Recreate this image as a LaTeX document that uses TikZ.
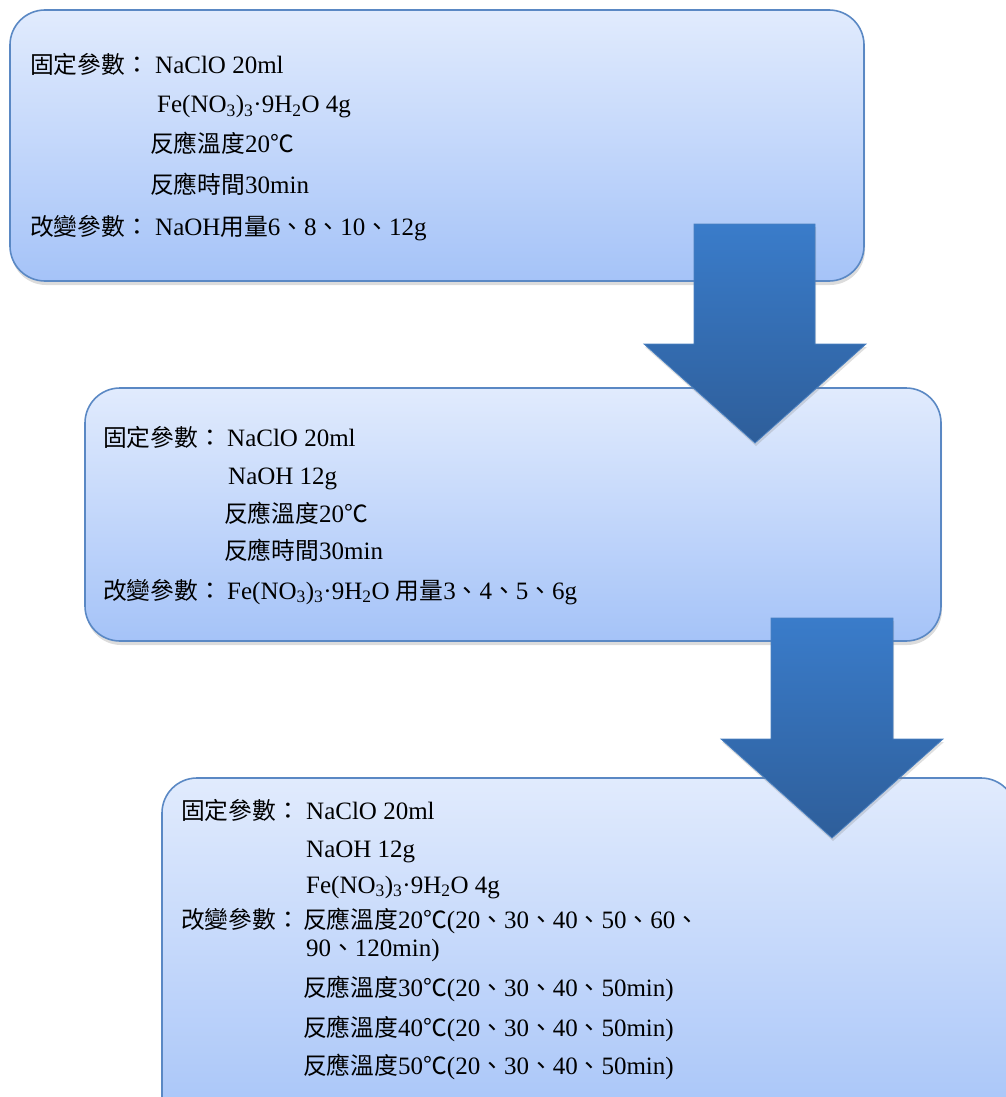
\documentclass[tikz,border=0pt]{standalone}
\usepackage{fontspec}
\setmainfont{Liberation Serif}
\newfontfamily\cjkfont[Scale=0.95]{Noto Sans CJK TC}
\newcommand\zhtxt[1]{{\cjkfont #1}}
\usetikzlibrary{shadows}
\definecolor{boxtop}{HTML}{E1EBFD}
\definecolor{boxbot}{HTML}{A5C3F8}
\definecolor{boxline}{HTML}{5A88C4}
\definecolor{arrtop}{HTML}{3A7CCA}
\definecolor{arrbot}{HTML}{2E5E9A}
\definecolor{arrline}{HTML}{4A80C0}
\tikzset{
  flowbox/.style={draw=boxline, line width=1.6pt, rounded corners=35pt,
    top color=boxtop, bottom color=boxbot,
    drop shadow={opacity=0.28, shadow xshift=1pt, shadow yshift=-4pt}},
  blockarrow/.style={draw=arrline, line width=0.8pt, top color=arrtop, bottom color=arrbot,
    drop shadow={opacity=0.25, shadow xshift=1pt, shadow yshift=-3pt}},
  txt/.style={inner sep=0pt, anchor=base west, font=\fontsize{25}{29}\selectfont, text=black}
}
\newcommand\fenit{Fe(NO\textsubscript{3})\textsubscript{3}·9H\textsubscript{2}O}
\begin{document}
\begin{tikzpicture}[x=1pt, y=-1pt]
\useasboundingbox (0,0) rectangle (1006,1097);
% boxes
\path[flowbox] (10,10) rectangle (864,281);
\path[flowbox] (85,388) rectangle (941,641);
\path[flowbox] (162,778) rectangle (1016,1140);
% arrows
\path[blockarrow] (694,224) -- (815,224) -- (815,344) -- (866,344) -- (755,443) -- (644,344) -- (694,344) -- cycle;
\path[blockarrow] (771,618) -- (893,618) -- (893,739) -- (943,739) -- (832,838) -- (721,739) -- (771,739) -- cycle;
% box 1 text
\node[txt] (b1l1) at (30,74) {\zhtxt{固定參數：}};
\node[txt] (b1v1) at (155,74) {NaClO 20ml};
\node[txt] (b1v2) at (157,113) {\fenit\ 4g};
\node[txt] (b1v3) at (150,153) {\zhtxt{反應溫度}20\zhtxt{℃}};
\node[txt] (b1v4) at (150,193) {\zhtxt{反應時間}30min};
\node[txt] (b1l5) at (30,235) {\zhtxt{改變參數：}};
\node[txt] (b1v5) at (155,235) {NaOH\zhtxt{用量}6\zhtxt{、}8\zhtxt{、}10\zhtxt{、}12g};
% box 2 text
\node[txt] (b2l1) at (103,446) {\zhtxt{固定參數：}};
\node[txt] (b2v1) at (227,446) {NaClO 20ml};
\node[txt] (b2v2) at (228,484) {NaOH 12g};
\node[txt] (b2v3) at (224,522) {\zhtxt{反應溫度}20\zhtxt{℃}};
\node[txt] (b2v4) at (224,559) {\zhtxt{反應時間}30min};
\node[txt] (b2l5) at (103,599) {\zhtxt{改變參數：}};
\node[txt] (b2v5) at (227,599) {\fenit\ \zhtxt{用量}3\zhtxt{、}4\zhtxt{、}5\zhtxt{、}6g};
% box 3 text
\node[txt] (b3l1) at (181,819) {\zhtxt{固定參數：}};
\node[txt] (b3v1) at (306,819) {NaClO 20ml};
\node[txt] (b3v2) at (306,857) {NaOH 12g};
\node[txt] (b3v3) at (306,893) {\fenit\ 4g};
\node[txt] (b3l4) at (181,928) {\zhtxt{改變參數：}};
\node[txt] (b3v4) at (303,928) {\zhtxt{反應溫度}20\zhtxt{℃}(20\zhtxt{、}30\zhtxt{、}40\zhtxt{、}50\zhtxt{、}60\zhtxt{、}};
\node[txt] (b3v5) at (306,956) {90\zhtxt{、}120min)};
\node[txt] (b3v6) at (303,996) {\zhtxt{反應溫度}30\zhtxt{℃}(20\zhtxt{、}30\zhtxt{、}40\zhtxt{、}50min)};
\node[txt] (b3v7) at (303,1036) {\zhtxt{反應溫度}40\zhtxt{℃}(20\zhtxt{、}30\zhtxt{、}40\zhtxt{、}50min)};
\node[txt] (b3v8) at (303,1074) {\zhtxt{反應溫度}50\zhtxt{℃}(20\zhtxt{、}30\zhtxt{、}40\zhtxt{、}50min)};
\end{tikzpicture}
\end{document}
